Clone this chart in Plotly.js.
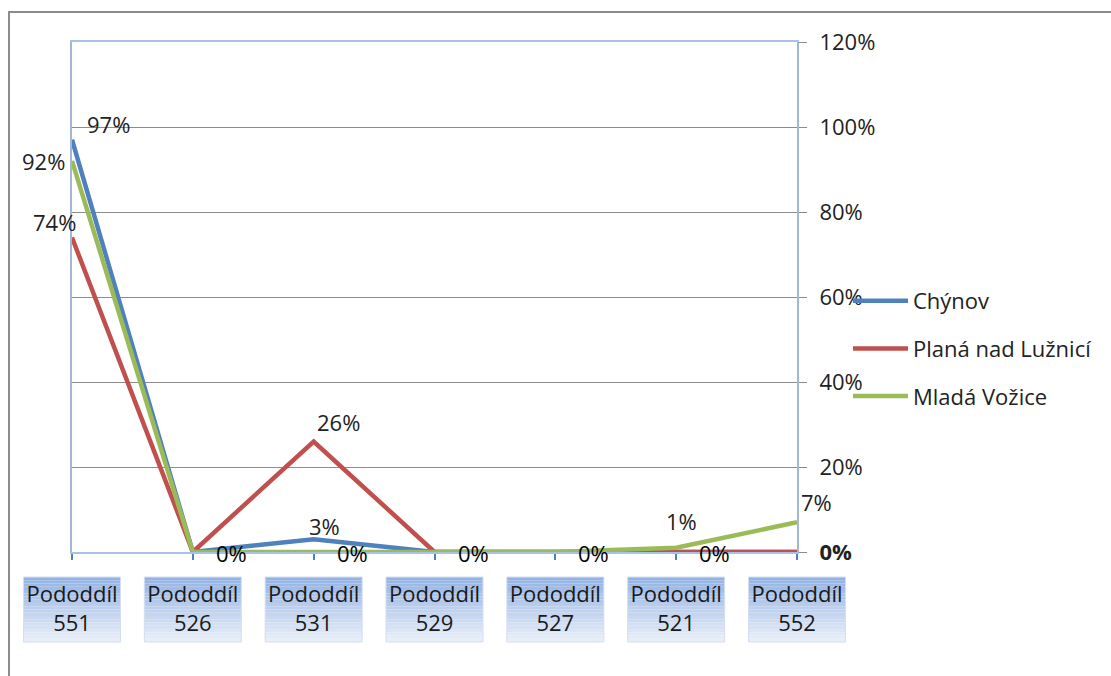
<!DOCTYPE html>
<html>
<head>
<meta charset="utf-8">
<script src="https://cdn.plot.ly/plotly-3.0.1.min.js"></script>
<style>html,body{margin:0;padding:0;background:#fff;}#chart{width:1111px;height:676px;}</style>
</head>
<body>
<div id="chart"></div>
<script>
// ---- data ----
const categories = ["Pododdíl 551", "Pododdíl 526", "Pododdíl 531", "Pododdíl 529", "Pododdíl 527", "Pododdíl 521", "Pododdíl 552"];
const seriesNames = ["Chýnov", "Planá nad Lužnicí", "Mladá Vožice"];
const chynov = [97, 0, 3, 0, 0, 0, 0];
const plana = [74, 0, 26, 0, 0, 0, 0];
const mlada = [92, 0, 0, 0, 0, 1, 7];
const yTicks = [0, 20, 40, 60, 80, 100, 120];

// ---- styling / layout config ----
const W = 1111, H = 676;
const M = {l: 72, r: 314, t: 42, b: 124};
const PW = W - M.l - M.r, PH = H - M.t - M.b;
const px = x => (x - M.l) / PW;
const py = y => (H - M.b - y) / PH;
const colors = ["#4F81BD", "#C0504D", "#9BBB59"];
const seriesData = [chynov, plana, mlada];
const FONT = "'Open Sans', Lato, sans-serif";
const TXT = "#222222";

// which data labels are shown and where (offsets in px)
// (the 0% label of the last point coincides with the axis "0%" label, which is drawn bold)
const labelSpecs = [
  {s: 0, i: 0, xa: "left", dx: 13, dy: 16},
  {s: 0, i: 2, xa: "center", dx: 11, dy: 13},
  {s: 1, i: 0, xa: "right", dx: 6, dy: 16},
  {s: 1, i: 2, xa: "center", dx: 25, dy: 20},
  {s: 2, i: 0, xa: "right", dx: -5, dy: 0},
  {s: 2, i: 5, xa: "center", dx: 5, dy: 27},
  {s: 2, i: 6, xa: "center", dx: 19, dy: 20},
  {s: 2, i: 1, xa: "left", dx: 21, dy: -1, dark: true},
  {s: 2, i: 2, xa: "left", dx: 21, dy: -1, dark: true},
  {s: 2, i: 3, xa: "left", dx: 21, dy: -1, dark: true},
  {s: 2, i: 4, xa: "left", dx: 21, dy: -1, dark: true},
  {s: 1, i: 5, xa: "left", dx: 21, dy: -1, dark: true}
];

const traces = seriesData.map((vals, k) => ({
  type: "scatter",
  mode: "lines",
  x: categories,
  y: vals,
  name: seriesNames[k],
  legendgroup: "g" + k,
  line: {color: colors[k], width: 4.5},
  hoverinfo: "x+y+name"
}));

const annotations = labelSpecs.map(sp => ({
  xref: "x", yref: "y",
  x: categories[sp.i], y: seriesData[sp.s][sp.i],
  text: seriesData[sp.s][sp.i] + "%",
  showarrow: false,
  xanchor: sp.xa, yanchor: "middle",
  xshift: sp.dx, yshift: sp.dy,
  font: {family: FONT, size: 22, color: sp.dark ? "#000" : TXT}
}));

// category label boxes with vertical gradient (strips, dark at top -> light at bottom)
const shapes = [];
const n = categories.length;
const strips = 20;
const gradTop = [0x94, 0xB3, 0xE3], gradBot = [0xE8, 0xEE, 0xF8];
const boxTop = 577, boxBot = 642, halfW = 48.5;
for (let i = 0; i < n; i++) {
  const cx = i / (n - 1);
  for (let s = 0; s < strips; s++) {
    const t = s / (strips - 1);
    const c = gradTop.map((v, j) => Math.round(v + (gradBot[j] - v) * t));
    const yTopPx = boxTop + (boxBot - boxTop) * s / strips;
    const yBotPx = boxTop + (boxBot - boxTop) * (s + 1) / strips;
    shapes.push({type: "rect", layer: "below", xref: "paper", yref: "paper",
      x0: cx - halfW / PW, x1: cx + halfW / PW, y0: py(yBotPx), y1: py(yTopPx),
      fillcolor: "rgb(" + c.join(",") + ")", line: {width: 0}});
  }
  shapes.push({type: "rect", layer: "below", xref: "paper", yref: "paper",
    x0: cx - halfW / PW, x1: cx + halfW / PW, y0: py(boxBot), y1: py(boxTop),
    fillcolor: "rgba(0,0,0,0)", line: {width: 1, color: "#D3DEF1"}});
}
// outer chart border
shapes.push({type: "rect", layer: "below", xref: "paper", yref: "paper",
  x0: px(9), x1: px(W + 20), y0: py(H + 20), y1: py(12),
  fillcolor: "rgba(0,0,0,0)", line: {width: 2, color: "#8C8C8C"}});

const layout = {
  width: W, height: H,
  margin: M,
  paper_bgcolor: "#fff", plot_bgcolor: "#fff",
  font: {family: FONT, size: 22, color: TXT},
  showlegend: true,
  legend: {
    x: px(848), y: py(280), xanchor: "left", yanchor: "top",
    font: {family: FONT, size: 22, color: TXT},
    itemwidth: 55, tracegroupgap: 16, traceorder: "grouped",
    bgcolor: "rgba(0,0,0,0)"
  },
  xaxis: {
    type: "category",
    range: [0, n - 1],
    tickvals: categories,
    ticktext: categories.map(c => c.replace(" ", "<br>")),
    showgrid: false, zeroline: false,
    showline: true, linecolor: "#A7C1E8", linewidth: 2, mirror: true,
    ticks: "outside", ticklen: 6, tickcolor: "#4F81BD", tickwidth: 2,
    ticklabelstandoff: 16,
    tickfont: {family: FONT, size: 22, color: "#1a1a1a"}
  },
  yaxis: {
    side: "right",
    range: [0, 120],
    tickvals: yTicks,
    ticktext: yTicks.map(v => v === 0 ? "<b>" + v + "%</b>" : v + "%"),
    showgrid: true, gridcolor: "#8C8C8C", gridwidth: 1,
    zeroline: false,
    showline: true, linecolor: "#A4B6D4", linewidth: 2, mirror: true,
    ticks: "outside", ticklen: 8, tickcolor: "#8C8C8C", tickwidth: 1,
    ticklabelstandoff: 8,
    tickfont: {family: FONT, size: 22, color: TXT}
  },
  annotations: annotations,
  shapes: shapes
};

Plotly.newPlot("chart", traces, layout, {displayModeBar: false, staticPlot: true});
</script>
</body>
</html>
